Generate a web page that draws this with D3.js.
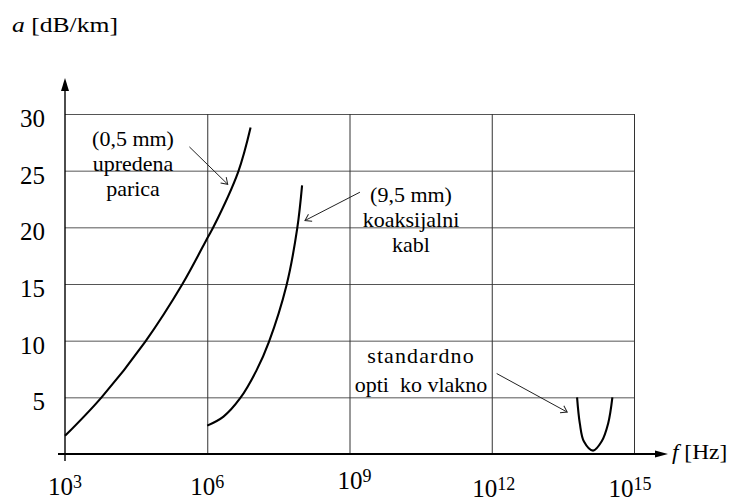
<!DOCTYPE html>
<html>
<head>
<meta charset="utf-8">
<script src="https://cdn.jsdelivr.net/npm/d3@7"></script>
<style>
  body { margin: 0; background: #fff; }
  text { font-family: "Liberation Serif", "Times New Roman", serif; fill: #000; white-space: pre; }
</style>
</head>
<body>
<svg id="chart" width="740" height="502"></svg>
<script>
// axis ticks
const decades = [3, 6, 9, 12, 15];          // f = 10^n Hz
const attTicks = [5, 10, 15, 20, 25, 30];   // a [dB/km]

// upredena parica (0,5 mm)
const pairFreq = [1e3, 5.9e3, 4.9e4, 3.0e5, 1.05e6, 1.34e6, 4.5e6, 8.2e6];
const pairAtt  = [1.6, 5.0, 9.9, 15.0, 19.2, 20.0, 24.9, 28.8];

// koaksijalni kabl (9,5 mm)
const coaxFreq = [1e6, 2.2e6, 4.9e6, 1.1e7, 2.0e7, 4.7e7, 7.9e7, 1.0e8];
const coaxAtt  = [2.5, 3.3, 4.9, 7.4, 9.9, 14.9, 19.9, 23.7];

// standardno opticko vlakno
const fiberFreq = [6.3e13, 7.2e13, 8.8e13, 1.37e14, 2.07e14, 2.85e14, 3.5e14];
const fiberAtt  = [5.0, 2.7, 1.1, 0.3, 1.1, 2.7, 5.0];

// annotation texts
const pairLabel  = ["(0,5 mm)", "upredena", "parica"];
const coaxLabel  = ["(9,5 mm)", "koaksijalni", "kabl"];
const fiberLabel = ["standardno", "opti  ko vlakno"];

// arrows pointing at the curves, [f, a] from -> to
const arrows = [
  [[4.2e5, 27.1], [2.7e6, 23.8]],
  [[1.66e9, 23.1], [1.15e8, 20.6]],
  [[1.27e12, 7.1], [3.9e13, 3.7]]
];

const svg = d3.select("#chart");
const x0 = 65, x1 = 634;

const x = d3.scaleLog().domain([1e3, 1e15]).range([x0, x1]);
const y = d3.scaleLinear().domain([0, 30]).range([454, 114]);

// grid: horizontal lines
svg.append("g")
  .attr("transform", `translate(${x0},0)`)
  .call(d3.axisLeft(y).tickValues(attTicks).tickSize(-(x1 - x0)).tickFormat(""))
  .call(g => g.select(".domain").remove())
  .selectAll("line").attr("stroke", "#555").attr("stroke-width", 1);

// grid: vertical lines
svg.append("g")
  .attr("transform", `translate(0,${y(0)})`)
  .call(d3.axisBottom(x).tickValues(decades.slice(1).map(d => Math.pow(10, d)))
    .tickSize(-(y(0) - y(30))).tickFormat(""))
  .call(g => g.select(".domain").remove())
  .selectAll("line").attr("stroke", "#333").attr("stroke-width", 1);

// axes with arrows
svg.append("line").attr("x1", x0).attr("x2", x0).attr("y1", 461).attr("y2", 88)
  .attr("stroke", "#000").attr("stroke-width", 1.4);
svg.append("path").attr("d", `M${x0},78 L${x0 - 4},91 L${x0 + 4},91 Z`).attr("fill", "#000");
svg.append("line").attr("x1", 58).attr("x2", 657).attr("y1", y(0)).attr("y2", y(0))
  .attr("stroke", "#000").attr("stroke-width", 1.8);
svg.append("path").attr("d", `M668,${y(0)} L655,${y(0) - 3.5} L655,${y(0) + 3.5} Z`).attr("fill", "#000");

// y tick labels
svg.append("g").selectAll("text").data(attTicks).join("text")
  .attr("x", 45).attr("y", d => y(d) + 13)
  .attr("text-anchor", "end").attr("font-size", 25)
  .text(d => d);

// x tick labels 10^n
const tickDx = [0, 0, 5, 2, -4], tickDy = [0, 0, -6, 2, 2];
const xt = svg.append("g").selectAll("text").data(decades).join("text")
  .attr("x", (d, i) => x(Math.pow(10, d)) + tickDx[i])
  .attr("y", (d, i) => 495 + tickDy[i])
  .attr("text-anchor", "middle").attr("font-size", 25);
xt.append("tspan").text("10");
xt.append("tspan").attr("dy", -7).attr("font-size", 18).text(d => d);

// axis titles
const at = svg.append("text").attr("transform", "translate(12,32) scale(1.22,1)").attr("font-size", 21);
at.append("tspan").attr("font-style", "italic").text("a");
at.append("tspan").text(" [dB/km]");
const ft = svg.append("text").attr("transform", "translate(672,459) scale(1.17,1)").attr("font-size", 20);
ft.append("tspan").attr("font-style", "italic").text("f");
ft.append("tspan").text(" [Hz]");

// curves
const line = d3.line().x(d => x(d[0])).y(d => y(d[1])).curve(d3.curveCatmullRom.alpha(0.5));
[[pairFreq, pairAtt], [coaxFreq, coaxAtt], [fiberFreq, fiberAtt]].forEach(([f, a]) => {
  svg.append("path").datum(d3.zip(f, a)).attr("d", line)
    .attr("fill", "none").attr("stroke", "#000").attr("stroke-width", 2.1);
});

// arrows
svg.append("defs").append("marker").attr("id", "open")
  .attr("viewBox", "-8 -5 10 10").attr("refX", 0).attr("refY", 0)
  .attr("markerWidth", 10).attr("markerHeight", 10).attr("markerUnits", "userSpaceOnUse")
  .attr("orient", "auto")
  .append("path").attr("d", "M-6,-4 L0,0 L-6,4").attr("fill", "none").attr("stroke", "#222").attr("stroke-width", 1);
svg.append("g").selectAll("line").data(arrows).join("line")
  .attr("x1", d => x(d[0][0])).attr("y1", d => y(d[0][1]))
  .attr("x2", d => x(d[1][0])).attr("y2", d => y(d[1][1]))
  .attr("stroke", "#222").attr("stroke-width", 1).attr("marker-end", "url(#open)");

// annotation blocks
function block(lines, cx, y0, lh, spacing) {
  const t = svg.append("text").attr("transform", `translate(${cx},${y0}) scale(1.1,1)`)
    .attr("text-anchor", "middle").attr("font-size", 20);
  t.selectAll("tspan").data(lines).join("tspan")
    .attr("x", 0).attr("dy", (d, i) => i ? lh : 0)
    .attr("letter-spacing", (d, i) => spacing[i] || 0).text(d => d);
}
block(pairLabel, 133, 146, 25, []);
block(coaxLabel, 411, 202, 25, []);
block(fiberLabel, 421, 363, 29, [1, 0]);
</script>
</body>
</html>
